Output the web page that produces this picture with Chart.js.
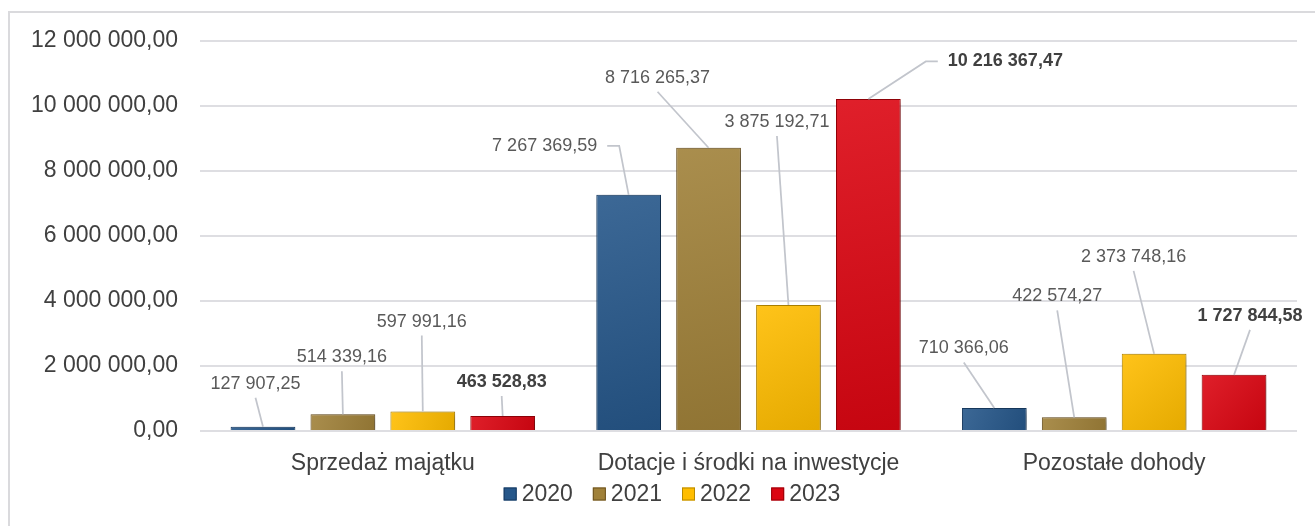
<!DOCTYPE html>
<html>
<head>
<meta charset="utf-8">
<script src="https://cdn.jsdelivr.net/npm/chart.js@4.4.1/dist/chart.umd.min.js"></script>
<style>
  html, body { margin: 0; padding: 0; background: #fff; }
  canvas { display: block; }
</style>
</head>
<body>
<canvas id="chart" width="1315" height="526"></canvas>
<script>
// dane
const categories = ['Sprzedaż majątku', 'Dotacje i środki na inwestycje', 'Pozostałe dohody'];
const years = ['2020', '2021', '2022', '2023'];
const values2020 = [127907.25, 7267369.59, 710366.06];
const values2021 = [514339.16, 8716265.37, 422574.27];
const values2022 = [597991.16, 3875192.71, 2373748.16];
const values2023 = [463528.83, 10216367.47, 1727844.58];
const yMin = 0;
const yMax = 12000000;
const yStep = 2000000;

const fills = ['#26578a', '#a08139', '#ffbd00', '#dc0612'];
const borders = ['#173a61', '#6c5220', '#b88900', '#990008'];

// przesunięcia etykiet względem środka wierzchołka słupka [dx, dy, strona linii]
const labelOffsets = [
  [[-7.5, -43], [-84, -49, 'right'], [-30.5, -59.5]],
  [[-1, -57], [-51, -70], [-17, -121]],
  [[-1, -90], [-11.5, -183], [-20.5, -97]],
  [[-1, -34], [137, -37.5, 'left'], [16, -59]]
];

const FONT = '"Liberation Sans", Arial, sans-serif';

function fmtPL(v) {
  const parts = v.toFixed(2).split('.');
  return parts[0].replace(/\B(?=(\d{3})+(?!\d))/g, ' ') + ',' + parts[1];
}

const frame = {
  id: 'frame',
  beforeDraw(chart) {
    const ctx = chart.ctx;
    ctx.save();
    ctx.strokeStyle = '#dadadd';
    ctx.lineWidth = 2;
    ctx.strokeRect(9, 12, 1400, 600);
    ctx.restore();
  }
};

const barShade = {
  id: 'barShade',
  beforeDatasetDraw(chart) {
    const ctx = chart.ctx;
    ctx.save();
    ctx.shadowColor = 'rgba(0,0,0,0.35)';
    ctx.shadowBlur = 7;
    ctx.shadowOffsetX = 3;
    ctx.shadowOffsetY = 2;
  },
  afterDatasetDraw(chart, args) {
    const ctx = chart.ctx;
    ctx.restore();
    // lekki gradient na słupkach
    args.meta.data.forEach(bar => {
      const left = bar.x - bar.width / 2;
      const h = bar.base - bar.y;
      if (h < 1) return;
      const g = ctx.createLinearGradient(left, bar.y, left + bar.width, bar.base);
      g.addColorStop(0, 'rgba(255,255,255,0.10)');
      g.addColorStop(1, 'rgba(0,0,0,0.10)');
      ctx.fillStyle = g;
      ctx.fillRect(left + 1, bar.y + 1, bar.width - 2, h - 1);
    });
  }
};

const leaderLabels = {
  id: 'leaderLabels',
  afterDatasetsDraw(chart) {
    const ctx = chart.ctx;
    ctx.save();
    chart.data.datasets.forEach((ds, di) => {
      const meta = chart.getDatasetMeta(di);
      meta.data.forEach((bar, i) => {
        const o = labelOffsets[di][i];
        const tx = bar.x + o[0];
        const ty = bar.y + o[1];
        const bold = di === 3;
        const text = fmtPL(ds.data[i]);
        ctx.font = (bold ? 'bold ' : '') + '18px ' + FONT;
        const w = ctx.measureText(text).width;

        ctx.strokeStyle = '#c2c5cc';
        ctx.lineWidth = 1.75;
        ctx.beginPath();
        if (o[2] === 'right') {
          const sx = tx + w / 2 + 10;
          ctx.moveTo(sx, ty);
          ctx.lineTo(sx + 12, ty);
        } else if (o[2] === 'left') {
          const sx = tx - w / 2 - 10;
          ctx.moveTo(sx, ty);
          ctx.lineTo(sx - 12, ty);
        } else {
          ctx.moveTo(tx, ty + 14);
        }
        ctx.lineTo(bar.x, bar.y);
        ctx.stroke();

        ctx.fillStyle = bold ? '#404040' : '#595959';
        ctx.textAlign = 'center';
        ctx.textBaseline = 'middle';
        ctx.fillText(text, tx, ty);
      });
    });
    ctx.restore();
  }
};

// legenda rysowana ręcznie, by zachować odstępy jak w oryginale
const bottomLegend = {
  id: 'bottomLegend',
  afterDraw(chart) {
    const ctx = chart.ctx;
    const box = 13, gap = 5, spacing = 20, cy = 494, cx = 672;
    ctx.save();
    ctx.font = '23px ' + FONT;
    const items = chart.data.datasets.map((ds, k) => ({ k, text: ds.label, w: ctx.measureText(ds.label).width }));
    const total = items.reduce((s, it) => s + box + gap + it.w, 0) + spacing * (items.length - 1);
    let x = cx - total / 2;
    items.forEach(it => {
      const ds = chart.data.datasets[it.k];
      ctx.fillStyle = ds.backgroundColor;
      ctx.fillRect(x, cy - box / 2, box, box);
      ctx.strokeStyle = ds.borderColor;
      ctx.lineWidth = 1;
      ctx.strokeRect(x + 0.5, cy - box / 2 + 0.5, box - 1, box - 1);
      ctx.fillStyle = '#404040';
      ctx.textAlign = 'left';
      ctx.textBaseline = 'middle';
      ctx.fillText(it.text, x + box + gap, cy + 1);
      x += box + gap + it.w + spacing;
    });
    ctx.restore();
  }
};

const seriesValues = [values2020, values2021, values2022, values2023];

new Chart(document.getElementById('chart'), {
  type: 'bar',
  data: {
    labels: categories,
    datasets: years.map((y, k) => ({
      label: y,
      data: seriesValues[k],
      backgroundColor: fills[k],
      borderColor: borders[k],
      borderWidth: 1,
      categoryPercentage: 0.874,
      barPercentage: 0.81
    }))
  },
  options: {
    responsive: false,
    animation: false,
    layout: { padding: { left: 0, right: 18, top: 41, bottom: 0 } },
    plugins: {
      tooltip: { enabled: false },
      legend: { display: false }
    },
    scales: {
      x: {
        grid: { display: false },
        border: { display: false },
        ticks: { color: '#404040', padding: 11, font: { family: FONT, size: 23 } },
        afterFit(scale) { scale.height = 95; }
      },
      y: {
        min: yMin,
        max: yMax,
        border: { display: false },
        grid: { color: '#dedee2', lineWidth: 2, drawTicks: false },
        ticks: {
          stepSize: yStep,
          padding: 22,
          color: '#404040',
          font: { family: FONT, size: 23 },
          callback: v => fmtPL(v)
        },
        afterFit(scale) { scale.width = 200; }
      }
    }
  },
  plugins: [frame, barShade, leaderLabels, bottomLegend]
});
</script>
</body>
</html>
